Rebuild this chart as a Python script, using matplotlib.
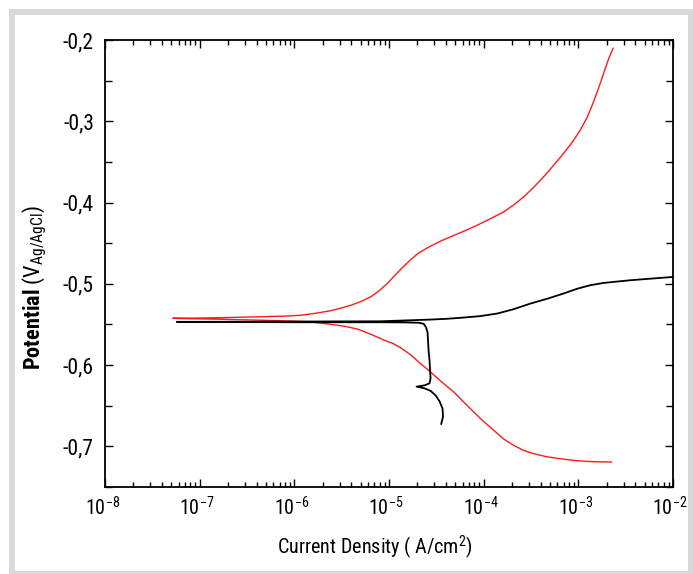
import matplotlib
matplotlib.use('Agg')
import matplotlib.pyplot as plt
from matplotlib import font_manager
import matplotlib.transforms as mtransforms
import numpy as np
from matplotlib.patches import Rectangle
from matplotlib.ticker import FixedLocator, LogLocator, NullFormatter

# pick a narrow font if one is installed, otherwise a plain sans and smaller sizes
font = 'Liberation Sans'
scale = 0.82
for cand in ['Liberation Sans Narrow', 'DejaVu Sans Condensed', 'Roboto Condensed', 'Open Sans Condensed']:
    try:
        font_manager.findfont(cand, fallback_to_default=False)
        font = cand
        scale = 1.0
        break
    except Exception:
        pass

plt.rcParams['font.family'] = [font, 'DejaVu Sans']
plt.rcParams['mathtext.fontset'] = 'custom'
plt.rcParams['mathtext.rm'] = font
plt.rcParams['mathtext.it'] = font
plt.rcParams['mathtext.bf'] = font + ':bold'

# red curve: log10 of current density and potential, cathodic end -> Ecorr -> anodic end
red_logi = [-2.652, -2.789, -2.908, -3.053, -3.190, -3.338, -3.472, -3.580, -3.682, -3.791,
            -3.893, -4.002, -4.104, -4.213, -4.315, -4.445, -4.561, -4.667, -4.772, -4.878,
            -4.962, -5.057, -5.194, -5.334, -5.479, -5.616, -5.722, -5.827, -6.038, -6.354,
            -6.776, -7.093, -7.283,
            -6.987, -6.671, -6.354, -6.091, -5.932, -5.774, -5.616, -5.511, -5.405, -5.300,
            -5.194, -5.110, -5.018, -4.941, -4.860, -4.772, -4.685, -4.582, -4.445, -4.308,
            -4.174, -4.034, -3.918, -3.788, -3.686, -3.577, -3.475, -3.366, -3.264, -3.155,
            -3.063, -2.979, -2.905, -2.839, -2.789, -2.733, -2.684, -2.634]
red_E = [-0.7193, -0.7190, -0.7185, -0.7172, -0.7152, -0.7127, -0.7090, -0.7049, -0.6988, -0.6908,
         -0.6803, -0.6692, -0.6578, -0.6452, -0.6331, -0.6206, -0.6085, -0.5982, -0.5873, -0.5785,
         -0.5732, -0.5690, -0.5620, -0.5556, -0.5520, -0.5498, -0.5483, -0.5469, -0.5458, -0.5448,
         -0.5436, -0.5429, -0.5424,
         -0.5421, -0.5414, -0.5405, -0.5397, -0.5387, -0.5362, -0.5331, -0.5300, -0.5264, -0.5220,
         -0.5161, -0.5091, -0.4996, -0.4900, -0.4802, -0.4703, -0.4619, -0.4549, -0.4469, -0.4401,
         -0.4336, -0.4260, -0.4192, -0.4115, -0.4032, -0.3930, -0.3817, -0.3683, -0.3546, -0.3395,
         -0.3256, -0.3108, -0.2948, -0.2760, -0.2603, -0.2410, -0.2246, -0.2102]

# black curve
black_logi = [-4.448, -4.429, -4.435, -4.466, -4.508, -4.561, -4.624, -4.709, -4.624, -4.572,
              -4.561, -4.566, -4.572, -4.582, -4.588, -4.593, -4.609, -4.635, -4.688, -4.825,
              -5.089, -5.932, -7.241,
              -5.932, -5.089, -4.561, -4.382, -4.210, -4.034, -3.858, -3.686, -3.506, -3.327,
              -3.155, -3.011, -2.873, -2.733, -2.451, -2.241, -1.995]
black_E = [-0.6723, -0.6631, -0.6532, -0.6446, -0.6372, -0.6317, -0.6286, -0.6265, -0.6249, -0.6224,
           -0.6163, -0.6064, -0.5941, -0.5818, -0.5695, -0.5596, -0.5534, -0.5491, -0.5479, -0.5475,
           -0.5473, -0.5473, -0.5469,
           -0.5464, -0.5461, -0.5440, -0.5430, -0.5415, -0.5397, -0.5366, -0.5313, -0.5243, -0.5183,
           -0.5119, -0.5060, -0.5017, -0.4989, -0.4956, -0.4937, -0.4915]

xtick_exp = [-8, -7, -6, -5, -4, -3, -2]
ytick_vals = [-0.7, -0.6, -0.5, -0.4, -0.3, -0.2]

fig = plt.figure(figsize=(6.93, 5.74), dpi=100)
W, H = 693, 574
ax = fig.add_axes([105 / W, (H - 487) / H, 568 / W, 447 / H])

ax.plot(10 ** np.array(red_logi), red_E, color='#ff1a1a', lw=1.0)
ax.plot(10 ** np.array(black_logi), black_E, color='black', lw=1.3)

ax.set_xscale('log')
ax.set_xlim(1e-8, 1e-2)
ax.set_ylim(-0.75, -0.2)

ax.set_xticks([10.0 ** e for e in xtick_exp])
ax.set_xticklabels(['10$^{%d}$' % e for e in xtick_exp])
ax.xaxis.set_minor_locator(LogLocator(base=10, subs=np.arange(2, 10)))
ax.xaxis.set_minor_formatter(NullFormatter())

ax.set_yticks(ytick_vals)
ax.set_yticklabels([('%.1f' % v).replace('.', ',') for v in ytick_vals])
ax.yaxis.set_minor_locator(FixedLocator(np.arange(-0.75, -0.19, 0.05)))

ax.tick_params(which='both', direction='in', top=True, right=True, labelsize=15.5 * scale, width=1.0)
ax.tick_params(axis='x', which='major', labelsize=14.5 * scale)
ax.tick_params(which='major', length=6, pad=8)
ax.tick_params(axis='x', which='major', pad=7)
ax.tick_params(which='minor', length=3.5)
ax.tick_params(axis='y', which='minor', length=5)
for s in ax.spines.values():
    s.set_linewidth(1.3)

# nudge x tick labels a little left, like the original
shift = mtransforms.ScaledTranslation(-2 / 72, 0, fig.dpi_scale_trans)
for lab in ax.get_xticklabels():
    lab.set_transform(lab.get_transform() + shift)

ax.set_xlabel('Current Density ( A/cm$^{2}$)', fontsize=14.5 * scale)
ax.xaxis.set_label_coords(0.475, -0.103)
ax.set_ylabel('$\\mathbf{Potential}$ (V$_{Ag/AgCl}$)', fontsize=16 * scale)
ax.yaxis.set_label_coords(-0.098, 0.447)

# grey frame round the figure
fig.patches.append(Rectangle((12 / W, 0), (691 - 12) / W, (H - 12) / H, transform=fig.transFigure,
                             fill=False, edgecolor='#d9d9d9', linewidth=4.3))

fig.savefig('out.png', dpi=100)
